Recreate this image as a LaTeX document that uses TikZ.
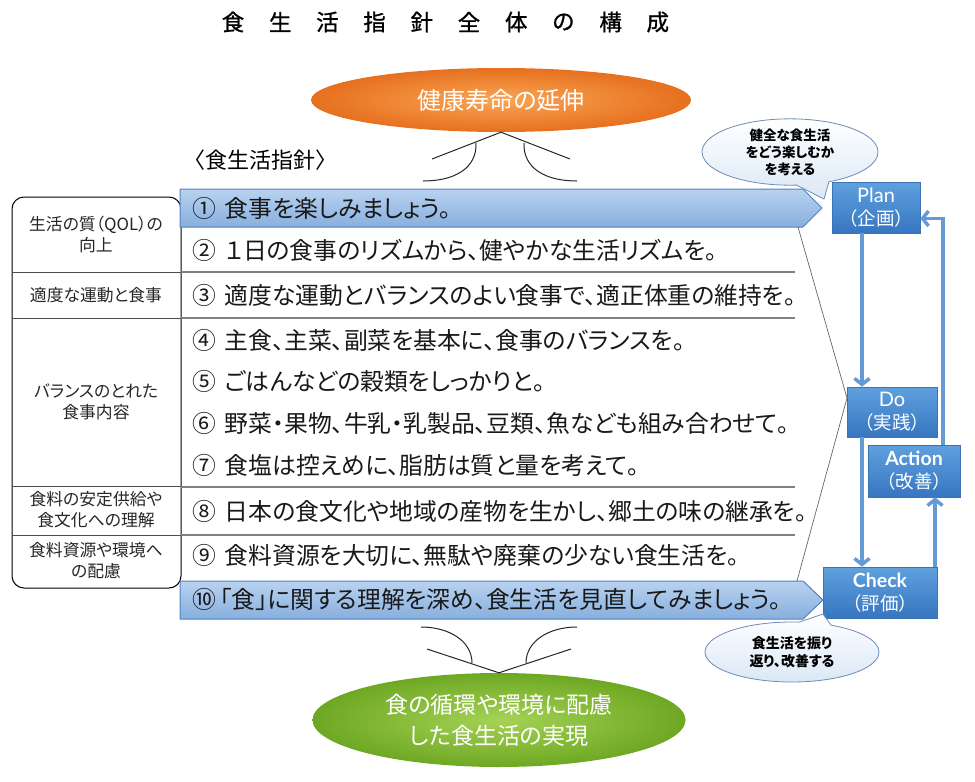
\documentclass[tikz,border=0pt]{standalone}
\usepackage{fontspec}
\setmainfont[RawFeature=+palt]{Noto Sans CJK JP}
\newfontfamily\cjkfw{Noto Sans CJK JP}
\newfontfamily\titlefont[FakeBold=1.0]{Noto Sans CJK JP}
\newfontfamily\latinsans{Lato}
\usetikzlibrary{shapes.geometric,shapes.callouts,arrows.meta}
\definecolor{bandtop}{RGB}{185,210,240}
\definecolor{bandbot}{RGB}{135,175,222}
\definecolor{bandedge}{RGB}{80,130,190}
\definecolor{pdcatop}{RGB}{95,160,222}
\definecolor{pdcabot}{RGB}{55,118,192}
\definecolor{pdcaedge}{RGB}{60,115,180}
\definecolor{flowblue}{RGB}{100,155,215}
\definecolor{orangein}{RGB}{250,165,85}
\definecolor{orangeout}{RGB}{230,112,30}
\definecolor{greenin}{RGB}{165,210,85}
\definecolor{greenout}{RGB}{110,168,35}
\definecolor{calloutedge}{RGB}{110,140,180}
\definecolor{calloutbot}{RGB}{218,232,246}
\newcommand{\numgap}{\hspace{9pt}}
\begin{document}
\begin{tikzpicture}[x=1pt,y=-1pt,
  link/.style={draw=black!85, line width=1pt},
  thinline/.style={draw=black!60, line width=0.7pt},
  rowline/.style={draw=black!50, line width=1.3pt},
  catline/.style={draw=black!70, line width=0.8pt},
  band/.style={top color=bandtop, bottom color=bandbot, draw=bandedge, line width=1pt},
  titlechar/.style={font=\titlefont\fontsize{22.5}{24}\selectfont, inner sep=0pt},
  cat/.style={align=center, font=\fontsize{16.8}{21}\selectfont, inner sep=0pt, text=black!85},
  row/.style={anchor=west, font=\fontsize{23.8}{26}\selectfont, inner sep=0pt, text=black!90},
  pdca/.style={rectangle, top color=pdcatop, bottom color=pdcabot, draw=pdcaedge, line width=0.6pt, text=white, align=center, font=\fontsize{18.5}{23}\selectfont, inner sep=0pt},
  flow/.style={draw=flowblue, line width=3.5pt, -{Straight Barb[length=6pt,width=15pt]}},
  callout/.style={ellipse callout, draw=calloutedge, line width=0.8pt, top color=white, bottom color=calloutbot, align=center, font=\bfseries\fontsize{13.5}{17}\selectfont, inner sep=0pt, callout pointer arc=22},
  goalshape/.style={ellipse, text=white, align=center, inner sep=0pt}
]
\path[use as bounding box] (0,0) rectangle (975,782);

% title
\foreach \c [count=\i from 0] in {食,生,活,指,針,全,体,の,構,成}
  \node[titlechar] (title\i) at ({233+47.2*\i},22) {\c};

% top goal
\node[goalshape, minimum width=380pt, minimum height=64pt, inner color=orangein, outer color=orangeout, font=\fontsize{24}{28}\selectfont] (goal) at (501,100) {健康寿命の延伸};

% top connector
\coordinate (tl) at (432,159);
\coordinate (tr) at (570,159);
\coordinate (tls) at (476,143);
\coordinate (trs) at (524,143);
\coordinate (tle) at (423,181);
\coordinate (tre) at (577,181);
\draw[link] (tl) -- (goal.south) -- (tr);
\draw[link] (tls) .. controls (477,168) and (455,181) .. (tle);
\draw[link] (trs) .. controls (523,168) and (545,181) .. (tre);

% heading
\node[anchor=west, inner sep=0pt, font=\cjkfw\fontsize{22}{26}\selectfont] (heading) at (183,160) {〈食生活指針〉};

% thin V line behind
\coordinate (v1) at (798,227);
\coordinate (v2) at (847,398);
\coordinate (v3) at (797,581);
\draw[thinline] (v1) -- (v2) -- (v3);

% left category box
\draw[line width=1pt, rounded corners=12pt] (12,197) rectangle (181,588);
\draw[catline] (12,272) -- (181,272);
\draw[catline] (12,318) -- (181,318);
\draw[catline] (12,486) -- (181,486);
\draw[catline] (12,535) -- (181,535);
\node[cat] (cat1) at (96,234) {生活の質（QOL）の\\向上};
\node[cat] (cat2) at (96,295) {適度な運動と食事};
\node[cat] (cat3) at (96,402) {バランスのとれた\\食事内容};
\node[cat] (cat4) at (96,510) {食料の安定供給や\\食文化への理解};
\node[cat] (cat5) at (96,561) {食料資源や環境へ\\の配慮};

% bands
\path[band] (180,189) -- (803,189) -- (822,208) -- (803,227) -- (180,227) -- cycle;
\path[band] (180,581) -- (803,581) -- (823,600) -- (803,619) -- (180,619) -- cycle;

% row dividers
\draw[rowline] (181,272) -- (795,272);
\draw[rowline] (181,318) -- (795,318);
\draw[rowline] (181,487) -- (795,487);
\draw[rowline] (181,535) -- (795,535);

% rows
\node[row] (r1) at (192,208) {①\numgap 食事を楽しみましょう。};
\node[row] (r2) at (192,250) {②\numgap １日の食事のリズムから、健やかな生活リズムを。};
\node[row] (r3) at (192,295) {③\numgap 適度な運動とバランスのよい食事で、適正体重の維持を。};
\node[row] (r4) at (192,340) {④\numgap 主食、主菜、副菜を基本に、食事のバランスを。};
\node[row] (r5) at (192,381) {⑤\numgap ごはんなどの穀類をしっかりと。};
\node[row] (r6) at (192,423) {⑥\numgap 野菜・果物、牛乳・乳製品、豆類、魚なども組み合わせて。};
\node[row] (r7) at (192,465) {⑦\numgap 食塩は控えめに、脂肪は質と量を考えて。};
\node[row] (r8) at (192,511) {⑧\numgap 日本の食文化や地域の産物を生かし、郷土の味の継承を。};
\node[row] (r9) at (192,555) {⑨\numgap 食料資源を大切に、無駄や廃棄の少ない食生活を。};
\node[row] (r10) at (192,599) {⑩\hspace{4pt}「食」に関する理解を深め、食生活を見直してみましょう。};

% PDCA boxes
\node[pdca, minimum width=88pt, minimum height=51pt] (plan) at (876,207.5) {{\latinsans\fontsize{20}{23}\selectfont Plan}\\{\cjkfw （企画）}};
\node[pdca, minimum width=90pt, minimum height=50pt] (do) at (892,412) {{\latinsans\fontsize{20}{23}\selectfont Do}\\{\cjkfw （実践）}};
\node[pdca, minimum width=92pt, minimum height=52pt] (action) at (914,471) {{\latinsans\bfseries\fontsize{19.5}{23}\selectfont Action}\\{\cjkfw （改善）}};
\node[pdca, minimum width=114pt, minimum height=51pt] (check) at (880,592.5) {{\latinsans\bfseries\fontsize{19.5}{23}\selectfont Check}\\{\cjkfw （評価）}};

% PDCA flow
\draw[flow] ([xshift=-14pt]plan.south) -- ([xshift=-14pt]plan.south |- do.north);
\draw[flow] ([xshift=-30pt]do.south) -- ([xshift=-30pt]do.south |- check.north);
\draw[flow] ([xshift=55pt]check.north) -- ([xshift=55pt]check.north |- action.south);
\draw[flow] ([xshift=29pt]action.north) |- ([yshift=-11pt]plan.east);

% callouts
\coordinate (c1tip) at (824,199);
\coordinate (c2tip) at (823,614);
\node[callout, minimum width=176pt, minimum height=66pt, callout absolute pointer={(c1tip)}] (note1) at (790,152) {健全な食生活\\をどう楽しむか\\を考える};
\node[callout, minimum width=174pt, minimum height=60pt, font=\bfseries\fontsize{14}{18}\selectfont, callout absolute pointer={(c2tip)}] (note2) at (792,652) {食生活を振り\\返り、改善する};

% bottom goal
\node[goalshape, minimum width=373pt, minimum height=94pt, inner color=greenin, outer color=greenout, font=\fontsize{23}{31}\selectfont] (green) at (499,720) {食の循環や環境に配慮\\した食生活の実現};

% bottom connector
\coordinate (bl) at (427,649);
\coordinate (br) at (571,649);
\coordinate (bls) at (472,663);
\coordinate (brs) at (526,663);
\coordinate (ble) at (421,627);
\coordinate (bre) at (577,627);
\draw[link] (bl) -- (green.north) -- (br);
\draw[link] (bls) .. controls (472,641) and (449,627) .. (ble);
\draw[link] (brs) .. controls (526,641) and (549,627) .. (bre);
\end{tikzpicture}
\end{document}
